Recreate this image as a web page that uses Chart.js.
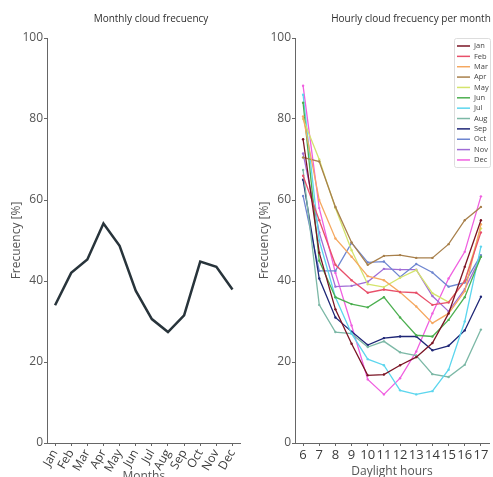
<!DOCTYPE html>
<html>
<head>
<meta charset="utf-8">
<title>Cloud frecuency</title>
<script src="https://cdn.jsdelivr.net/npm/chart.js@4.4.1/dist/chart.umd.min.js"></script>
<style>
  html, body { margin: 0; padding: 0; background: #fff; overflow: hidden; }
  #left { position: absolute; left: 0; top: 0; width: 246px; height: 486px; }
  #right { position: absolute; left: 246px; top: 0; width: 247px; height: 480px; }
</style>
</head>
<body>
<div id="left"><canvas id="monthlyChart"></canvas></div>
<div id="right"><canvas id="hourlyChart"></canvas></div>
<script>
// Monthly mean cloud frequency (%)
const months = ['Jan', 'Feb', 'Mar', 'Apr', 'May', 'Jun', 'Jul', 'Aug', 'Sep', 'Oct', 'Nov', 'Dec'];
const monthlyFreq = [34, 42, 45.3, 54.2, 48.7, 37.6, 30.6, 27.4, 31.5, 44.8, 43.5, 37.9];

// Hourly cloud frequency (%) for each month, daylight hours 6-17
const hours = ['6', '7', '8', '9', '10', '11', '12', '13', '14', '15', '16', '17'];
const hourlyJan = [75, 47, 33, 24.5, 16.7, 16.9, 19.2, 21.2, 24.7, 32, 43.5, 55];
const hourlyFeb = [66, 55, 44, 40.2, 37.1, 37.9, 37.3, 37.1, 34.1, 34.7, 40, 52];
const hourlyMar = [80.6, 60, 50.5, 46, 41.2, 40.2, 37.2, 33.7, 29.6, 32, 37.5, 54];
const hourlyApr = [70.5, 69.5, 58.3, 49.5, 44, 46.2, 46.4, 45.7, 45.7, 49.1, 55, 58.3];
const hourlyMay = [80, 70, 58, 47.6, 39.2, 38.5, 40.8, 42.7, 37, 34.8, 40, 53];
const hourlyJun = [84, 45, 36, 34.3, 33.5, 36, 31, 26.6, 26.3, 30.4, 36, 46];
const hourlyJul = [86, 50, 36, 27, 20.7, 19.2, 13, 12, 12.8, 18.1, 30, 48.5];
const hourlyAug = [67.4, 34.1, 27.4, 27, 23.7, 25.1, 22.4, 21.6, 17, 16.3, 19.3, 28];
const hourlySep = [65, 40.6, 31, 27.5, 24.2, 25.9, 26.3, 26.3, 22.9, 24, 27.8, 36.1];
const hourlyOct = [61, 42.5, 42.5, 49.4, 44.6, 44.8, 41, 44.2, 42.1, 38.6, 39.6, 46.4];
const hourlyNov = [71.5, 52, 38.6, 38.8, 39.8, 43, 42.8, 42.8, 36.3, 32.5, 38, 46];
const hourlyDec = [88.2, 58, 42, 29, 15.7, 12, 16, 22.6, 32, 40.6, 47.2, 60.9];

const monthColors = ['#7a1424', '#e8506a', '#f5a860', '#a8804c', '#d4e46c', '#4caf50',
                     '#5cd6ee', '#7cb8a6', '#1e2676', '#6e86d0', '#a06cd6', '#f060e0'];
const hourlySeries = [hourlyJan, hourlyFeb, hourlyMar, hourlyApr, hourlyMay, hourlyJun,
                      hourlyJul, hourlyAug, hourlySep, hourlyOct, hourlyNov, hourlyDec];

const fontFamily = '"Open Sans", sans-serif';
const axisColor = '#666';

// Small title drawn at a fixed x over each panel
const panelTitle = {
  id: 'panelTitle',
  afterDraw(chart, args, opts) {
    const ctx = chart.ctx;
    ctx.save();
    ctx.font = '10px ' + fontFamily;
    ctx.fillStyle = '#2e2e2e';
    ctx.textAlign = 'center';
    ctx.textBaseline = 'middle';
    ctx.fillText(opts.text, opts.x, opts.y);
    ctx.restore();
  }
};

// Boxed legend in the top-right corner of the hourly panel
const boxLegend = {
  id: 'boxLegend',
  afterDraw(chart, args, opts) {
    const ctx = chart.ctx;
    const { x, y, w, h, rowStart, rowGap } = opts;
    ctx.save();
    ctx.fillStyle = 'rgba(255,255,255,0.9)';
    ctx.strokeStyle = '#ddd';
    ctx.lineWidth = 1;
    ctx.beginPath();
    ctx.roundRect(x + 0.5, y + 0.5, w, h, 2);
    ctx.fill();
    ctx.stroke();
    ctx.font = '7.5px ' + fontFamily;
    ctx.textBaseline = 'middle';
    chart.data.datasets.forEach((ds, i) => {
      const ly = y + rowStart + i * rowGap;
      ctx.strokeStyle = ds.borderColor;
      ctx.lineWidth = 1.5;
      ctx.beginPath();
      ctx.moveTo(x + 3, ly);
      ctx.lineTo(x + 16, ly);
      ctx.stroke();
      ctx.fillStyle = '#444';
      ctx.fillText(ds.label, x + 20, ly);
    });
    ctx.restore();
  }
};

function makeScales(yWidth, xHeight, xTickFont, xRotation, yTitlePad, xTitlePad, xTitle) {
  return {
    x: {
      offset: true,
      grid: { display: true, drawOnChartArea: false, offset: false, tickLength: 3, color: axisColor },
      border: { display: true, color: axisColor, width: 1 },
      ticks: {
        autoSkip: false,
        minRotation: xRotation,
        maxRotation: xRotation,
        padding: 1,
        color: '#3a3a3a',
        font: { family: fontFamily, size: xTickFont }
      },
      title: {
        display: true,
        text: xTitle,
        color: '#555',
        padding: { top: 0, bottom: xTitlePad },
        font: { family: fontFamily, size: 12 }
      },
      afterFit(scale) { scale.height = xHeight; }
    },
    y: {
      min: 0,
      max: 100,
      grid: { display: true, drawOnChartArea: false, tickLength: 3, color: axisColor },
      border: { display: true, color: axisColor, width: 1 },
      ticks: {
        stepSize: 20,
        padding: 1,
        color: '#555',
        font: { family: fontFamily, size: 12 }
      },
      title: {
        display: true,
        text: 'Frecuency [%]',
        color: '#555',
        padding: { top: yTitlePad, bottom: 0 },
        font: { family: fontFamily, size: 12 }
      },
      afterFit(scale) { scale.width = yWidth; }
    }
  };
}

// Monthly cloud frecuency (line)
new Chart(document.getElementById('monthlyChart'), {
  type: 'line',
  data: {
    labels: months,
    datasets: [{
      label: 'Frecuency',
      data: monthlyFreq,
      borderColor: '#28343b',
      borderWidth: 2.5,
      pointRadius: 0,
      tension: 0
    }]
  },
  options: {
    responsive: true,
    maintainAspectRatio: false,
    animation: false,
    layout: { padding: { top: 38, right: 1, left: 0, bottom: 0 } },
    plugins: {
      legend: { display: false },
      tooltip: { enabled: false },
      panelTitle: { text: 'Monthly cloud frecuency', x: 151, y: 19.5 }
    },
    scales: makeScales(47, 43, 12, 60, 9, 2, 'Months')
  },
  plugins: [panelTitle]
});

// Hourly cloud frecuency per month (12 lines)
new Chart(document.getElementById('hourlyChart'), {
  type: 'line',
  data: {
    labels: hours,
    datasets: months.map((m, i) => ({
      label: m,
      data: hourlySeries[i],
      borderColor: monthColors[i],
      backgroundColor: monthColors[i],
      borderWidth: 1.3,
      pointRadius: 1.2,
      pointBorderWidth: 0,
      tension: 0
    }))
  },
  options: {
    responsive: true,
    maintainAspectRatio: false,
    animation: false,
    layout: { padding: { top: 38, right: 0, left: 0, bottom: 0 } },
    plugins: {
      legend: { display: false },
      tooltip: { enabled: false },
      panelTitle: { text: 'Hourly cloud frecuency per month', x: 165, y: 19.5 },
      boxLegend: { x: 208, y: 38, w: 36, h: 129, rowStart: 8, rowGap: 10.36 }
    },
    scales: makeScales(49, 37, 13, 0, 11, 1, 'Daylight hours')
  },
  plugins: [panelTitle, boxLegend]
});
</script>
</body>
</html>
